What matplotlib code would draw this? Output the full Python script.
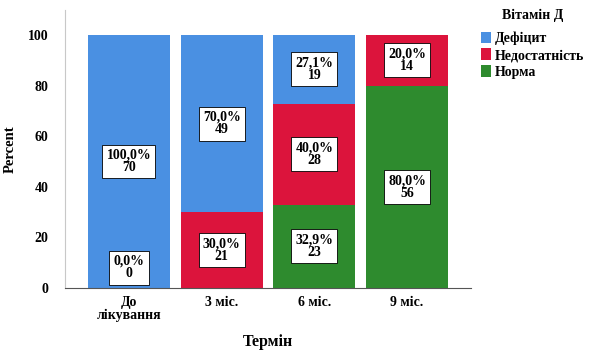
import matplotlib.pyplot as plt
import numpy as np

plt.rcParams['font.family'] = ['Liberation Serif', 'DejaVu Serif']
plt.rcParams['font.weight'] = 'bold'
plt.rcParams['axes.labelweight'] = 'bold'

terms = ['До\nлікування', '3 міс.', '6 міс.', '9 міс.']
groups = ['Дефіцит', 'Недостатність', 'Норма']
colors = ['#4a90e2', '#dc143c', '#2e8b2e']

# відсотки та кількість для кожної групи (знизу вгору: Норма, Недостатність, Дефіцит)
pct_norm = [0.0, 0.0, 32.9, 80.0]
pct_insuf = [0.0, 30.0, 40.0, 20.0]
pct_def = [100.0, 70.0, 27.1, 0.0]
n_norm = [0, 0, 23, 56]
n_insuf = [0, 21, 28, 14]
n_def = [70, 49, 19, 0]


def main():
    fig = plt.figure(figsize=(5.93, 3.54), dpi=100)
    ax = fig.add_axes([0.1096, 0.1864, 0.6847, 0.786])

    x = np.arange(len(terms))
    width = 0.885
    stack = [(pct_norm, n_norm, colors[2]),
             (pct_insuf, n_insuf, colors[1]),
             (pct_def, n_def, colors[0])]

    bottom = np.zeros(len(terms))
    labels = []
    for pct, n, c in stack:
        pct = np.array(pct)
        ax.bar(x, pct, width, bottom=bottom, color=c, edgecolor='none')
        for i in range(len(terms)):
            labels.append((i, bottom[i], pct[i], n[i]))
        bottom = bottom + pct

    box = dict(boxstyle='square,pad=0.3', fc='white', ec='black', lw=0.6)
    # підписи сегментів; нульовий сегмент першого стовпця показуємо один раз біля основи
    shown_zero = set()
    for i, b, p, n in labels:
        if p > 0:
            ax.text(i, b + p / 2, f'{p:.1f}%\n{n}'.replace('.', ','),
                    ha='center', va='center', fontsize=10, bbox=box,
                    linespacing=0.95)
        elif i == 0 and i not in shown_zero:
            shown_zero.add(i)
            ax.text(i, 3.0, f'{p:.1f}%\n{n}'.replace('.', ','),
                    ha='center', va='bottom', fontsize=10, bbox=box,
                    linespacing=0.95)

    ax.set_xlim(-0.69, 3.69)
    ax.set_ylim(0, 110)
    ax.set_yticks([0, 20, 40, 60, 80, 100])
    ax.set_xticks(x)
    ax.set_xticklabels(terms, fontsize=10, linespacing=0.95)
    ax.tick_params(axis='y', labelsize=10, length=0, pad=12)
    ax.tick_params(axis='x', length=0, pad=6)
    ax.set_ylabel('Percent', fontsize=10.5, labelpad=8)
    ax.set_xlabel('Термін', fontsize=11.5, labelpad=9)

    for s in ['top', 'right']:
        ax.spines[s].set_visible(False)
    ax.spines['left'].set_color('#c8c8c8')
    ax.spines['bottom'].set_color('#555555')

    handles = [plt.Rectangle((0, 0), 1, 1, fc=c) for c in colors]
    leg = fig.legend(handles, groups, title='Вітамін Д', loc='upper left',
                     bbox_to_anchor=(0.79, 1.01), frameon=False,
                     fontsize=10, title_fontsize=10, handlelength=0.7,
                     handleheight=0.9, handletextpad=0.3, labelspacing=0.22)
    leg.get_title().set_fontweight('bold')
    leg._legend_box.align = 'center'
    leg._legend_box.sep = 7

    fig.savefig('out.png', dpi=100)


if __name__ == '__main__':
    main()
